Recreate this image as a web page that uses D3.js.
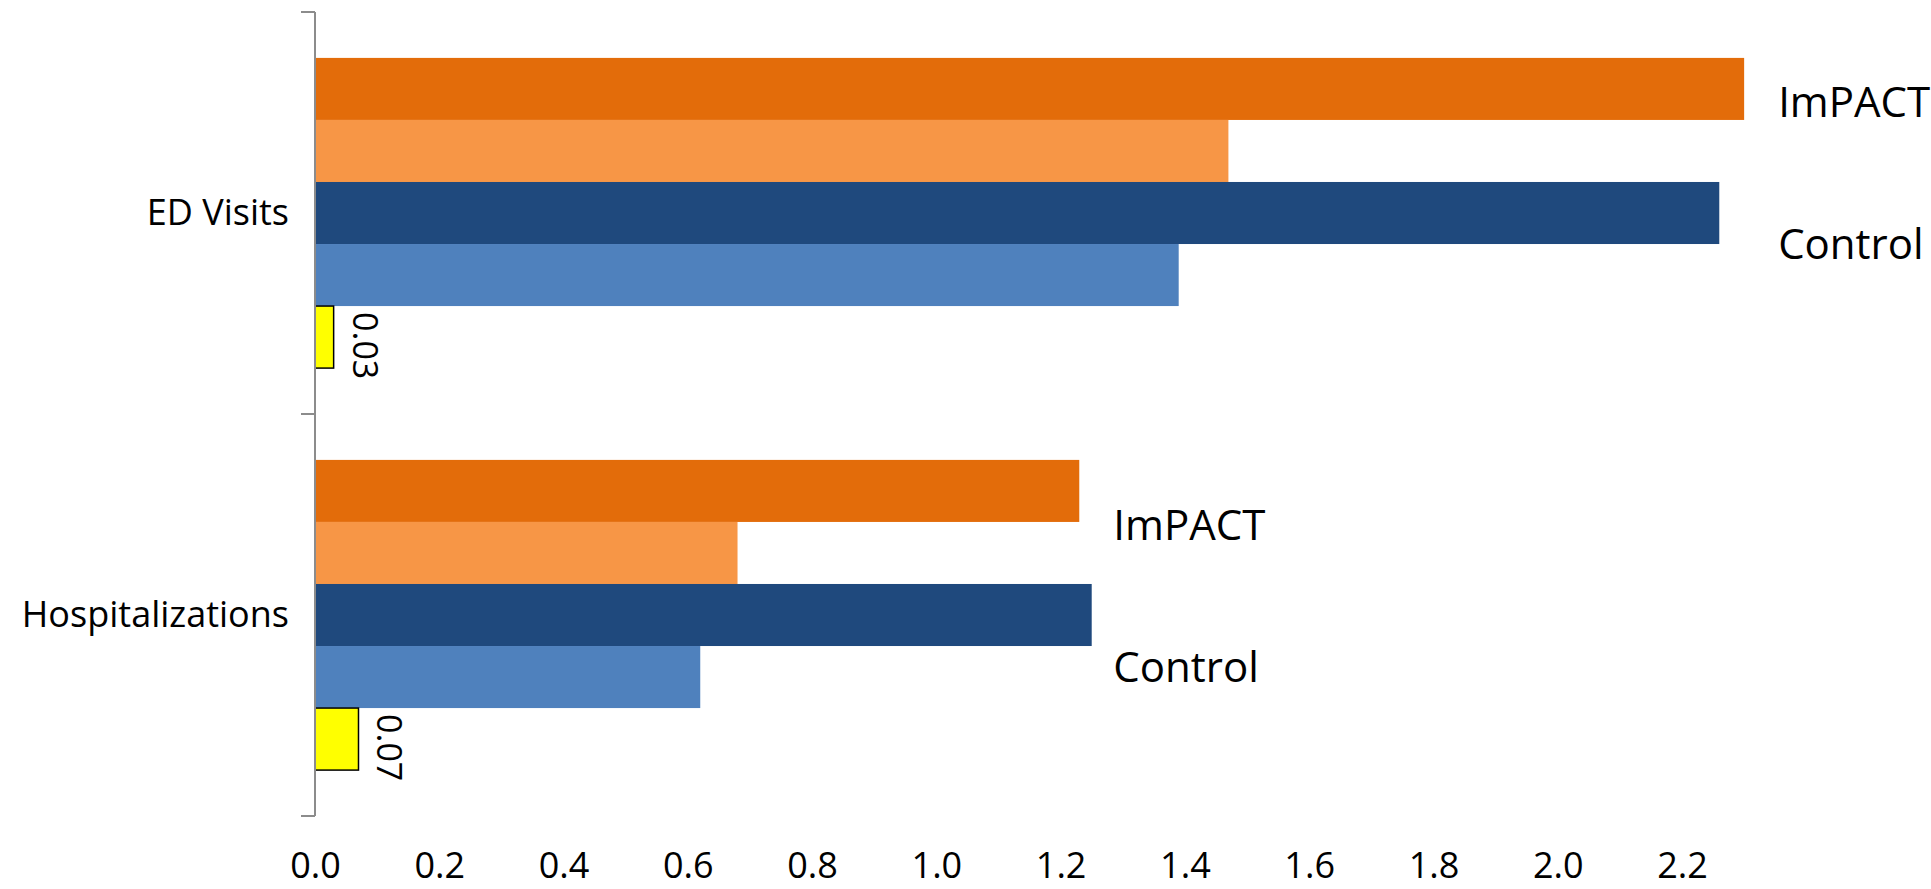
<!DOCTYPE html>
<html>
<head>
<meta charset="utf-8">
<script src="https://cdn.jsdelivr.net/npm/d3@7"></script>
<style>
  html, body { margin: 0; padding: 0; background: #fff; }
  svg { display: block; font-family: "Open Sans", "Noto Sans", sans-serif; }
</style>
</head>
<body>
<script>
// Categories (top to bottom)
const categories = ["ED Visits", "Hospitalizations"];

// Series values, one entry per category
const impactDark   = [2.30, 1.23];
const impactLight  = [1.47, 0.68];
const controlDark  = [2.26, 1.25];
const controlLight = [1.39, 0.62];
const pValues      = [0.03, 0.07];

// Group labels placed beside each category's bars
const groupLabels = ["ImPACT", "Control"];

// Value axis ticks
const xTicks = [0.0, 0.2, 0.4, 0.6, 0.8, 1.0, 1.2, 1.4, 1.6, 1.8, 2.0, 2.2];

const W = 1931, H = 889;
const FONT = '"Open Sans", "Noto Sans", sans-serif';

const series = [
  { key: "impactDark",   values: impactDark,   fill: "#E36C0A" },
  { key: "impactLight",  values: impactLight,  fill: "#F79646" },
  { key: "controlDark",  values: controlDark,  fill: "#1F497D" },
  { key: "controlLight", values: controlLight, fill: "#4F81BD" },
  { key: "pValue",       values: pValues,      fill: "#FFFF00", stroke: "#000", label: true }
];

const svg = d3.select("body").append("svg")
  .attr("width", W)
  .attr("height", H)
  .attr("font-family", FONT);

const x = d3.scaleLinear().domain([0, 2.2]).range([315, 1682]);
const y = d3.scaleBand().domain(categories).range([12, 816]);
const inner = d3.scaleBand()
  .domain(series.map(s => s.key))
  .range([0, y.bandwidth()])
  .paddingInner(0)
  .paddingOuter(0.74);

// Bars
const rows = [];
series.forEach(s => s.values.forEach((v, i) => rows.push({ s, v, cat: categories[i] })));

svg.append("g").selectAll("rect")
  .data(rows)
  .join("rect")
  .attr("x", x(0))
  .attr("y", d => y(d.cat) + inner(d.s.key))
  .attr("width", d => x(d.v) - x(0))
  .attr("height", inner.bandwidth())
  .attr("fill", d => d.s.fill)
  .attr("stroke", d => d.s.stroke || "none")
  .attr("stroke-width", d => d.s.stroke ? 1.5 : 0);

// Rotated value labels on the p-value bars
svg.append("g").selectAll("text")
  .data(rows.filter(d => d.s.label))
  .join("text")
  .attr("transform", d => `translate(${x(d.v) + 19},${y(d.cat) + inner(d.s.key) + 6}) rotate(90)`)
  .attr("text-anchor", "start")
  .attr("font-size", 34)
  .attr("fill", "#000")
  .text(d => d3.format(".2f")(d.v));

// Group labels beside the bars
const labelNudge = [-3, 18];
categories.forEach((cat, i) => {
  const lx = x(impactDark[i]) + 34;
  const base = y(cat) + inner("impactLight") + labelNudge[i];
  groupLabels.forEach((txt, j) => {
    svg.append("text")
      .attr("x", lx)
      .attr("y", base + j * 142)
      .attr("font-size", 42)
      .attr("fill", "#000")
      .text(txt);
  });
});

// Category axis
const yAxis = svg.append("g")
  .attr("transform", `translate(${x(0)},0)`)
  .call(d3.axisLeft(y).tickSize(0).tickPadding(26))
  .attr("font-family", FONT)
  .attr("font-size", 36);
yAxis.select(".domain").remove();
yAxis.selectAll("text").attr("fill", "#000");

const boundaries = [y.range()[0], ...categories.map(c => y(c) + y.bandwidth())];
yAxis.append("line")
  .attr("x1", 0).attr("x2", 0)
  .attr("y1", boundaries[0]).attr("y2", boundaries[boundaries.length - 1])
  .attr("stroke", "#8C8C8C").attr("stroke-width", 2);
yAxis.selectAll("line.boundary")
  .data(boundaries)
  .join("line")
  .attr("class", "boundary")
  .attr("x1", -14).attr("x2", 0)
  .attr("y1", d => d).attr("y2", d => d)
  .attr("stroke", "#8C8C8C").attr("stroke-width", 2);

// Value axis (labels only)
const xAxis = svg.append("g")
  .attr("transform", "translate(0,845)")
  .call(d3.axisBottom(x).tickValues(xTicks).tickSize(0).tickPadding(7).tickFormat(d3.format(".1f")))
  .attr("font-family", FONT)
  .attr("font-size", 36);
xAxis.select(".domain").remove();
xAxis.selectAll("text").attr("fill", "#000");
</script>
</body>
</html>
